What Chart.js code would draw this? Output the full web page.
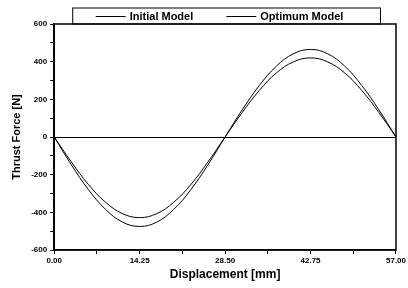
<!DOCTYPE html>
<html>
<head>
<meta charset="utf-8">
<script src="https://cdn.jsdelivr.net/npm/chart.js@4.4.1/dist/chart.umd.min.js"></script>
<style>
  html, body { margin: 0; padding: 0; background: #fff; }
  #wrap { width: 408px; height: 288px; }
</style>
</head>
<body>
<div id="wrap"><canvas id="thrustChart" width="408" height="288"></canvas></div>
<script>
// displacement [mm]
const displacement = [0, 2.85, 5.7, 8.55, 11.4, 14.25, 17.1, 19.95, 22.8, 25.65, 28.5,
    31.35, 34.2, 37.05, 39.9, 42.75, 45.6, 48.45, 51.3, 54.15, 57];
// thrust force [N]
const initialModel = [0, -147, -279, -384, -452, -475, -452, -384, -279, -147, 0,
    144, 273, 376, 442, 465, 442, 376, 273, 144, 0];
const optimumModel = [0, -132, -252, -346, -407, -428, -407, -346, -252, -132, 0,
    130, 247, 340, 399, 420, 399, 340, 247, 130, 0];
const xTickLabels = ['0.00', '14.25', '28.50', '42.75', '57.00'];

const FONT = 'Liberation Sans, Arial, sans-serif';

function toPoints(ys) {
    return ys.map((y, i) => ({ x: displacement[i], y: y }));
}

// frame round the plot, plus the boxed legend sitting on top of it
const framePlugin = {
    id: 'frame',
    afterDraw(chart) {
        const a = chart.chartArea;
        const ctx = chart.ctx;
        ctx.save();
        ctx.strokeStyle = '#000';
        ctx.lineWidth = 1.5;
        ctx.strokeRect(a.left, a.top, a.right - a.left, a.bottom - a.top);

        const boxL = a.left + 18.5, boxR = a.right - 15.5, boxT = a.top - 16;
        ctx.lineWidth = 1;
        ctx.strokeRect(boxL, boxT, boxR - boxL, 16);

        ctx.font = 'bold 11px ' + FONT;
        ctx.fillStyle = '#000';
        ctx.textBaseline = 'middle';
        const midY = boxT + 8.5;
        let x = boxL + 23;
        chart.data.datasets.forEach(ds => {
            ctx.beginPath();
            ctx.moveTo(x, midY);
            ctx.lineTo(x + 30, midY);
            ctx.lineWidth = 1;
            ctx.stroke();
            ctx.fillText(ds.label, x + 34, midY);
            x += 34 + ctx.measureText(ds.label).width + 33;
        });
        ctx.restore();
    }
};

const ctx = document.getElementById('thrustChart').getContext('2d');
new Chart(ctx, {
    type: 'line',
    data: {
        datasets: [{
            label: 'Initial Model',
            data: toPoints(initialModel),
            borderColor: '#000',
            borderWidth: 1,
            pointRadius: 0,
            tension: 0.4,
            fill: false
        }, {
            label: 'Optimum Model',
            data: toPoints(optimumModel),
            borderColor: '#000',
            borderWidth: 1,
            pointRadius: 0,
            tension: 0.4,
            fill: false
        }]
    },
    options: {
        responsive: false,
        animation: false,
        layout: { padding: { left: 6, right: 12, top: 24, bottom: 6 } },
        plugins: {
            tooltip: { enabled: false },
            legend: { display: false }
        },
        scales: {
            x: {
                type: 'linear',
                min: 0,
                max: 57,
                afterBuildTicks(axis) {
                    const t = [];
                    for (let i = 0; i <= 8; i++) t.push({ value: i * 57 / 8 });
                    axis.ticks = t;
                },
                ticks: {
                    color: '#000',
                    font: { family: FONT, size: 8, weight: 'bold' },
                    maxRotation: 0,
                    autoSkip: false,
                    padding: 2,
                    callback: (v, i) => (i % 2 === 0 ? xTickLabels[i / 2] : '')
                },
                grid: { display: true, drawOnChartArea: false, color: '#000', tickLength: 4 },
                border: { color: '#000', width: 1.5 },
                title: {
                    display: true,
                    text: 'Displacement [mm]',
                    color: '#000',
                    font: { family: FONT, size: 12, weight: 'bold' },
                    padding: { top: 0, bottom: 0 }
                }
            },
            y: {
                min: -600,
                max: 600,
                ticks: {
                    stepSize: 100,
                    color: '#000',
                    font: { family: FONT, size: 8, weight: 'bold' },
                    callback: v => (v % 200 === 0 ? v : '')
                },
                grid: {
                    color: c => (c.tick && c.tick.value === 0 ? '#000' : 'rgba(0,0,0,0)'),
                    tickColor: '#000',
                    tickLength: 4,
                    lineWidth: 1
                },
                border: { color: '#000', width: 1.5 },
                title: {
                    display: true,
                    text: 'Thrust Force [N]',
                    color: '#000',
                    font: { family: FONT, size: 11, weight: 'bold' },
                    padding: { bottom: 5 }
                }
            }
        }
    },
    plugins: [framePlugin]
});
</script>
</body>
</html>
